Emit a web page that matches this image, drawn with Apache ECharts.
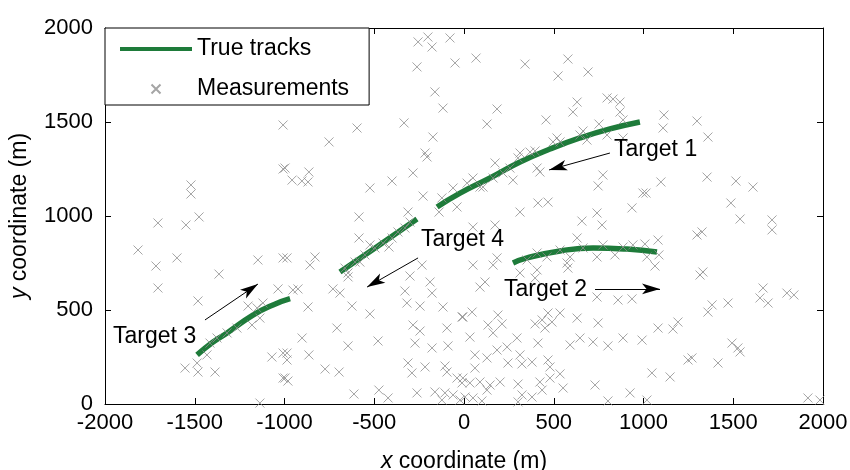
<!DOCTYPE html>
<html>
<head>
<meta charset="utf-8">
<script src="https://cdn.jsdelivr.net/npm/echarts@6/dist/echarts.min.js"></script>
<style>
  html, body { margin: 0; padding: 0; background: #fff; }
  #chart { width: 850px; height: 470px; }
</style>
</head>
<body>
<div id="chart"></div>
<script>
// true target tracks (x, y in metres)
var track1 = [[-150,1048],[-22,1122],[145,1202],[312,1287],[479,1356],[646,1415],[813,1463],[980,1500]];
var track2 = [[273,750],[351,777],[535,814],[719,830],[908,824],[1075,809]];
var track3 = [[-1487,261],[-1400,328],[-1320,378],[-1176,473],[-1064,527],[-969,560]];
var track4 = [[-691,702],[-479,840],[-262,984]];

// measurements (clutter + target returns)
var measurements = [
  [-256,1926],[-201,1952],[-178,1899],[-78,1947],[-50,1814],[-262,1793],[-162,1660],[-117,1574],
  [-1008,1484],[-596,1468],[-752,1394],[-334,1495],[-173,1420],[-217,1335],
  [67,1840],[340,1808],[579,1835],[524,1745],[691,1766],[184,1569],[128,1489],[457,1511],
  [630,1606],[607,1553],[797,1628],[830,1622],[869,1606],[869,1553],[886,1511],[752,1489],
  [663,1452],[518,1415],[496,1394],[535,1394],[646,1431],[685,1404],[797,1431],[886,1415],
  [312,1335],[368,1340],[396,1346],
  [1114,1537],[1109,1468],[1298,1505],[1359,1420],
  [-1008,1250],[-1521,1165],[-1521,1117],[-1705,963],[-1549,952],[-1476,995],[-1816,819],
  [-1716,734],[-1599,777],[-1365,691],[-1148,766],[-1008,777],
  [-997,1255],[-958,1191],[-903,1186],[-864,1234],[-869,1181],[-206,1314],[-284,1229],
  [-401,1186],[-524,1149],[-228,1106],[-312,1021],[-585,995],[-585,883],[-986,777],
  [-858,739],[-830,782],[-61,1149],[-39,1048],[-139,1021],[-234,739],[-301,681],[-646,697],
  [-663,723],[-607,755],[-552,793],[-496,830],[-451,856],[-401,883],[-368,915],[-329,936],
  [-301,968],[-524,846],[-418,835],[-580,755],
  [173,1282],[423,1234],[407,1255],[273,1191],[106,1154],[50,1202],[774,1218],[747,1160],
  [412,1069],[468,1074],[312,1021],[936,1043],[657,973],[741,1016],[769,952],[173,952],
  [50,941],[630,883],[50,739],[162,739],[184,777],
  [351,766],[407,803],[462,782],[535,819],[591,782],[663,830],[774,846],[841,793],[886,835],
  [941,846],[741,782],[574,750],[579,723],[407,713],[312,697],[997,1122],
  [17,1175],[89,1154],[162,1202],[217,1229],[301,1309],[256,1255],[-123,1096],
  [1097,1181],[1014,1122],[1354,1207],[1515,1186],[1610,1154],[1487,1069],[1538,984],
  [1716,979],[1716,926],[1326,915],[1298,899],[1008,851],[1081,872],[1086,793],[1019,782],
  [1064,734],[1331,702],
  [-1705,617],[-1482,548],[-1036,612],[-1203,521],[-1153,511],[-1120,537],[-1181,420],
  [-1137,457],[-1265,404],[-1320,378],[-1376,351],[-1415,324],[-1432,261],[-1487,218],
  [-1554,191],[-1482,170],[-1387,170],[-1070,250],[-1008,271],[-1008,138],[-1137,5],
  [-646,676],[-189,649],[-953,606],[-925,612],[-730,612],[-691,590],[-869,516],[-624,521],
  [-524,479],[-329,601],[-178,590],[-318,537],[-245,521],[-117,516],[-11,463],[-708,404],
  [-902,351],[-646,309],[-479,335],[-284,420],[-245,388],[-273,324],[-178,298],[-95,404],
  [-89,309],[-986,271],[-986,234],[-864,261],[-774,186],[-696,170],[-997,138],[-981,122],
  [-312,218],[-290,165],[-217,197],[-106,202],[-95,170],[-39,138],[-11,112],[-613,53],
  [-474,74],[-423,32],[-262,59],[-162,64],[-106,59],[-61,48],[-22,21],[-123,21],
  [89,622],[117,649],[396,670],[741,569],[858,553],[936,559],[-6,463],[45,489],[189,473],
  [134,420],[212,426],[396,426],[435,447],[468,484],[490,436],[535,484],[451,404],[630,457],
  [747,431],[33,356],[162,378],[295,351],[240,303],[184,287],[412,324],[591,314],[646,351],
  [719,330],[802,309],[886,351],[61,261],[128,245],[245,218],[312,261],[323,213],[379,223],
  [468,234],[479,197],[535,160],[61,191],[-6,138],[33,112],[89,117],[145,101],[201,117],
  [128,74],[301,106],[423,117],[435,74],[479,138],[552,85],[323,48],[379,37],[730,101],
  [925,59],[802,16],[6,37],[50,32],[100,16],[301,11],[992,340],
  [1315,686],[1666,617],[1649,564],[1694,537],[1799,590],[1838,580],[1471,537],[1382,527],
  [1359,489],[1192,436],[1164,399],[1081,404],[1493,324],[1526,298],[1538,277],[1270,245],
  [1248,234],[1415,218],[1047,165],[1148,144],[1019,21],[1916,32],[1983,21]
];

// annotations: label anchor (left edge of text) and arrow [from, to]
var labelNames = ['Target 1', 'Target 2', 'Target 3', 'Target 4'];
var labelPos = [[836,1351],[223,606],[-1955,356],[-240,872]];
var arrows = [
  [[813,1335],[474,1245]],
  [[730,612],[1092,612]],
  [[-1443,447],[-1148,638]],
  [[-256,777],[-540,622]]
];

var xTicks = [-2000, 2000, 500];
var yTicks = [0, 2000, 500];

var green = '#1e7b3a';
var font = 'Liberation Sans, Arial, sans-serif';

var chart = echarts.init(document.getElementById('chart'));

function trackSeries(data) {
  return {
    name: 'True tracks',
    type: 'line',
    data: data,
    smooth: true,
    symbol: 'none',
    silent: true,
    lineStyle: { color: green, width: 5.5 },
    itemStyle: { color: green },
    z: 2
  };
}

function plain(v) { return String(v); }

var axisCommon = {
  type: 'value',
  splitLine: { show: false },
  axisLine: { show: true, onZero: false, lineStyle: { color: '#000', width: 1 } },
  axisTick: { show: true, inside: true, length: 6, lineStyle: { color: '#000' } }
};

var nameStyle = {
  fontFamily: font, fontSize: 23, color: '#000',
  rich: { i: { fontFamily: font, fontSize: 23, fontStyle: 'italic', color: '#000' } }
};

var option = {
  animation: false,
  backgroundColor: '#fff',
  textStyle: { fontFamily: font },
  grid: { left: 105, right: 27, top: 28, bottom: 66, outerBoundsMode: 'none', containLabel: false },
  legend: {
    orient: 'vertical',
    left: 105,
    top: 28,
    padding: [9, 20, 4, 15],
    itemGap: 16,
    itemWidth: 72,
    itemHeight: 9,
    backgroundColor: '#fff',
    borderColor: '#000',
    borderWidth: 1,
    borderRadius: 0,
    textStyle: { fontFamily: font, fontSize: 23, color: '#000', lineHeight: 24 },
    data: [
      { name: 'True tracks', icon: 'path://M0,0H72V4H0Z' },
      { name: 'Measurements' }
    ]
  },
  xAxis: [
    Object.assign({}, axisCommon, {
      min: xTicks[0], max: xTicks[1], interval: xTicks[2],
      position: 'bottom',
      axisLabel: { fontFamily: font, fontSize: 22, color: '#000', margin: 8, formatter: plain },
      name: '{i|x} coordinate (m)',
      nameLocation: 'middle',
      nameGap: 46,
      nameTextStyle: nameStyle
    }),
    Object.assign({}, axisCommon, {
      min: xTicks[0], max: xTicks[1], interval: xTicks[2],
      position: 'top',
      axisLabel: { show: false }
    })
  ],
  yAxis: [
    Object.assign({}, axisCommon, {
      min: yTicks[0], max: yTicks[1], interval: yTicks[2],
      position: 'left',
      axisLabel: { fontFamily: font, fontSize: 22, color: '#000', margin: 12, formatter: plain },
      name: '{i|y} coordinate (m)',
      nameLocation: 'middle',
      nameGap: 74,
      nameRotate: 90,
      nameTextStyle: nameStyle
    }),
    Object.assign({}, axisCommon, {
      min: yTicks[0], max: yTicks[1], interval: yTicks[2],
      position: 'right',
      axisLabel: { show: false }
    })
  ],
  series: [
    trackSeries(track1),
    trackSeries(track2),
    trackSeries(track3),
    trackSeries(track4),
    {
      name: 'Measurements',
      type: 'scatter',
      data: measurements,
      symbol: 'path://M0,0L10,10M10,0L0,10',
      symbolSize: 9,
      silent: true,
      itemStyle: { color: 'rgba(0,0,0,0)', borderColor: '#8e8e8e', borderWidth: 1 },
      z: 3,
      markLine: {
        silent: true,
        symbol: ['none', 'arrow'],
        symbolSize: [8, 18],
        label: { show: false },
        lineStyle: { color: '#000', width: 1, type: 'solid' },
        data: arrows.map(function (a) {
          return [{ coord: a[0] }, { coord: a[1] }];
        })
      },
      markPoint: {
        silent: true,
        symbol: 'circle',
        symbolSize: 0,
        label: {
          show: true,
          position: 'right',
          distance: 0,
          formatter: '{b}',
          fontFamily: font,
          fontSize: 23,
          color: '#000'
        },
        data: labelNames.map(function (n, i) {
          return { name: n, coord: labelPos[i] };
        })
      }
    }
  ]
};

chart.setOption(option);
</script>
</body>
</html>
